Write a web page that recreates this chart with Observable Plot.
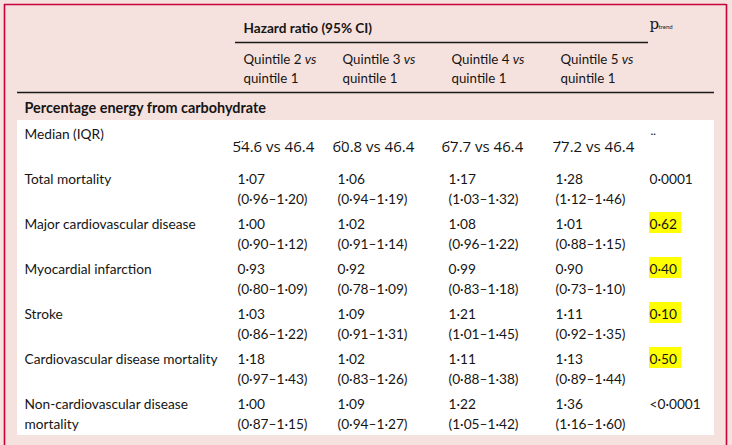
<!DOCTYPE html>
<html>
<head>
<meta charset="utf-8">
<script src="https://cdn.jsdelivr.net/npm/d3@7"></script>
<script src="https://cdn.jsdelivr.net/npm/@observablehq/plot@0.6"></script>
<style>
  html, body { margin: 0; padding: 0; background: #ffffff; }
  #chart svg { display: block; }
</style>
</head>
<body>
<div id="chart"></div>
<script>
// ---------- data ----------
const columnTitle = "Hazard ratio (95% CI)";
const pTitle = "p";
const pSub = "trend";
const quintiles = ["Quintile 2", "Quintile 3", "Quintile 4", "Quintile 5"];
const referenceQuintile = "quintile 1";
const sectionTitle = "Percentage energy from carbohydrate";
const medianLabel = "Median (IQR)";
const medianCarb = [54.6, 60.8, 67.7, 77.2];
const referenceMedian = 46.4;
const outcomes = [
  "Total mortality",
  "Major cardiovascular disease",
  "Myocardial infarction",
  "Stroke",
  "Cardiovascular disease mortality",
  "Non-cardiovascular disease mortality"
];
const hr = [
  [1.07, 1.06, 1.17, 1.28],
  [1.00, 1.02, 1.08, 1.01],
  [0.93, 0.92, 0.99, 0.90],
  [1.03, 1.09, 1.21, 1.11],
  [1.18, 1.02, 1.11, 1.13],
  [1.00, 1.09, 1.22, 1.36]
];
const ciLow = [
  [0.96, 0.94, 1.03, 1.12],
  [0.90, 0.91, 0.96, 0.88],
  [0.80, 0.78, 0.83, 0.73],
  [0.86, 0.91, 1.01, 0.92],
  [0.97, 0.83, 0.88, 0.89],
  [0.87, 0.94, 1.05, 1.16]
];
const ciHigh = [
  [1.20, 1.19, 1.32, 1.46],
  [1.12, 1.14, 1.22, 1.15],
  [1.09, 1.09, 1.18, 1.10],
  [1.22, 1.31, 1.45, 1.35],
  [1.43, 1.26, 1.38, 1.44],
  [1.15, 1.27, 1.42, 1.60]
];
const pTrend = ["0·0001", "0·62", "0·40", "0·10", "0·50", "<0·0001"];
const highlighted = [false, true, true, true, true, false];

// ---------- layout ----------
const W = 732, H = 445;
const LAY = {
  labelX: 24,
  valueX: [237, 337, 448, 555],
  headerX: [243, 342, 451, 560],
  medianX: [232, 332, 441, 552],
  pX: 649,
  titleY: 32,
  headerY: 63,
  sectionY: 112,
  medianLabelY: 138,
  medianValueY: 151,
  row0: 183,
  rowStep: 45,
  lineStep: 20
};
const COL = {
  pink: "#f5e1dd",
  border: "#c8003c",
  ink: "#151515",
  rule: "#1a1a1a",
  highlight: "#ffff00"
};
const bodyFont = "Lato, 'Noto Sans', sans-serif";
const numFont = "'Open Sans', 'Noto Sans', sans-serif";

const f2 = v => d3.format(".2f")(v).replace(".", "·");
const wrap = s => {
  if (s.length <= 32) return [s];
  const k = s.lastIndexOf(" ");
  return [s.slice(0, k), s.slice(k + 1)];
};

// ---------- build text lines ----------
const bodyLines = [];
outcomes.forEach((o, i) => {
  const base = LAY.row0 + i * LAY.rowStep;
  wrap(o).forEach((t, k) => bodyLines.push({x: LAY.labelX, y: base + k * LAY.lineStep, text: t}));
  quintiles.forEach((q, j) => {
    bodyLines.push({x: LAY.valueX[j], y: base, text: f2(hr[i][j])});
    bodyLines.push({x: LAY.valueX[j], y: base + LAY.lineStep, text: `(${f2(ciLow[i][j])}–${f2(ciHigh[i][j])})`});
  });
  bodyLines.push({x: LAY.pX, y: base, text: pTrend[i]});
});
bodyLines.push({x: LAY.labelX, y: LAY.medianLabelY, text: medianLabel});
bodyLines.push({x: LAY.pX + 1, y: LAY.medianLabelY + 4, text: "\u00a8"});

const headerLines = [];
quintiles.forEach((q, j) => {
  headerLines.push({x: LAY.headerX[j], y: LAY.headerY, text: `${q} vs`});
  headerLines.push({x: LAY.headerX[j], y: LAY.headerY + 19, text: referenceQuintile});
});

const medianLines = medianCarb.map((m, j) => {
  const s = d3.format(".1f")(m);
  return {x: LAY.medianX[j], y: LAY.medianValueY, text: `${s[0]}\u0308${s.slice(1)} vs ${d3.format(".1f")(referenceMedian)}`};
});

const hlBoxes = pTrend.map((p, i) => ({i, p, base: LAY.row0 + i * LAY.rowStep}))
  .filter(d => highlighted[d.i])
  .map(d => ({x1: LAY.pX, x2: LAY.pX + 32, y1: d.base - 16, y2: d.base + 5}));

const txt = (data, opts) => Plot.text(data, {x: "x", y: "y", text: "text", textAnchor: "start", lineAnchor: "bottom", fill: COL.ink, ...opts});

const chart = Plot.plot({
  width: W,
  height: H,
  margin: 0,
  x: {type: "linear", domain: [0, W], range: [0, W], axis: null},
  y: {type: "linear", domain: [0, H], range: [0, H], axis: null},
  style: {background: COL.pink, overflow: "visible"},
  marks: [
    Plot.rect([{x1: 17, x2: 714, y1: 120, y2: 435}], {x1: "x1", x2: "x2", y1: "y1", y2: "y2", fill: "#ffffff"}),
    Plot.ruleY([{y: 42, x1: 235, x2: 648}, {y: 92, x1: 17, x2: 714}], {y: "y", x1: "x1", x2: "x2", stroke: COL.rule, strokeWidth: 1.4}),
    Plot.ruleX([{x: 4}, {x: 726}], {x: "x", y1: 4, y2: H, stroke: COL.border, strokeWidth: 1.6}),
    Plot.ruleY([{y: 4}], {y: "y", x1: 4, x2: 726, stroke: COL.border, strokeWidth: 1.6}),
    Plot.rect(hlBoxes, {x1: "x1", x2: "x2", y1: "y1", y2: "y2", fill: COL.highlight}),
    txt(bodyLines, {fontSize: 13.7, fontFamily: bodyFont}),
    txt(headerLines, {fontSize: 13.3, fontFamily: bodyFont}),
    txt([{x: LAY.headerX[0], y: LAY.titleY, text: columnTitle}], {fontSize: 13.6, fontWeight: "bold", fontFamily: bodyFont}),
    txt([{x: LAY.labelX, y: LAY.sectionY, text: sectionTitle}], {fontSize: 14.4, fontWeight: "bold", fontFamily: bodyFont}),
    txt(medianLines, {fontSize: 15, fontWeight: 500, fontFamily: numFont}),
    txt([{x: LAY.pX, y: 28, text: pTitle}], {fontSize: 15, fontFamily: "'DejaVu Serif', serif"}),
    txt([{x: LAY.pX + 9, y: 28.5, text: pSub}], {fontSize: 6, fontFamily: bodyFont})
  ]
});

// italic "vs" in column headers
d3.select(chart).selectAll("text").each(function() {
  const t = this.textContent;
  const m = /^(Quintile \d )vs$/.exec(t);
  if (m) {
    const el = d3.select(this);
    el.text(null);
    el.append("tspan").text(m[1]);
    el.append("tspan").attr("font-style", "italic").text("vs");
  }
});

document.getElementById("chart").append(chart);
</script>
</body>
</html>
